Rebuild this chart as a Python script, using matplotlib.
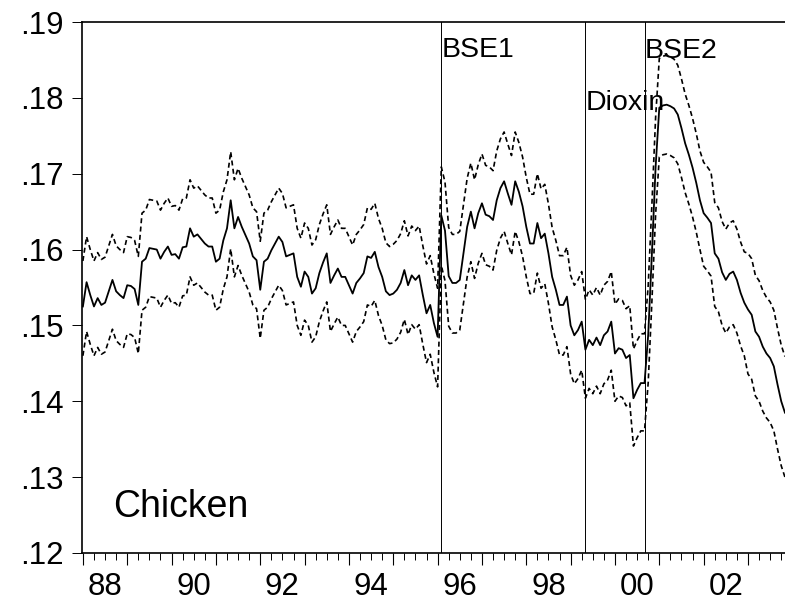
import numpy as np
import matplotlib.pyplot as plt
from matplotlib.ticker import MultipleLocator

plt.rcParams["font.family"] = ["Liberation Sans", "DejaVu Sans"]

# monthly series, starts 1988:01
START = 1988
mid = [
    .1525, .1557, .1540, .1525, .1536, .1527, .1530, .1545, .1560, .1545, .1540, .1536,
    .1553, .1552, .1548, .1527, .1584, .1588, .1602, .1601, .1600, .1588, .1597, .1604,
    .1593, .1594, .1588, .1603, .1604, .1628, .1617, .1620, .1614, .1608, .1604, .1604,
    .1584, .1588, .1612, .1628, .1665, .1628, .1643, .1630, .1619, .1608, .1591, .1586,
    .1547, .1584, .1588, .1599, .1608, .1617, .1610, .1591, .1593, .1595, .1564, .1551,
    .1571, .1564, .1542, .1549, .1569, .1583, .1595, .1556, .1566, .1575, .1564, .1564,
    .1553, .1542, .1556, .1562, .1569, .1591, .1589, .1597, .1577, .1564, .1545, .1540,
    .1542, .1547, .1556, .1573, .1553, .1566, .1560, .1566, .1540, .1516, .1527, .1503,
    .1485, .1645, .1625, .1565, .1556, .1556, .1560, .1595, .1630, .1650, .1628, .1648,
    .1661, .1646, .1644, .1639, .1665, .1681, .1690, .1674, .1659, .1690, .1676, .1657,
    .1630, .1608, .1608, .1635, .1615, .1621, .1595, .1564, .1547, .1527, .1527, .1538,
    .1500, .1487, .1494, .1505, .1468, .1481, .1474, .1484, .1474, .1487, .1492, .1505,
    .1463, .1470, .1468, .1457, .1461, .1404, .1415, .1424, .1424, .1488, .1595, .1709,
    .1787, .1790, .1791, .1789, .1786, .1778, .1760, .1740, .1725, .1708, .1688, .1665,
    .1648, .1642, .1635, .1595, .1588, .1570, .1560, .1568, .1571, .1560, .1543, .1530,
    .1521, .1514, .1492, .1485, .1472, .1463, .1457, .1446, .1422, .1400, .1385,
]

# distance of the dashed bands from the middle line, one value per year 1988..2003
band_up = [.0060, .0064, .0064, .0064, .0064, .0064, .0064, .0065,
           .0064, .0065, .0065, .0066, .0065, .0065, .0067, .0074]
band_lo = [.0065, .0064, .0064, .0064, .0064, .0064, .0064, .0065,
           .0066, .0066, .0066, .0064, .0063, .0065, .0070, .0085]

event_names = ["BSE1", "Dioxin", "BSE2"]
event_dates = [1996 + 1 / 12, 1999 + 4 / 12, 2000 + 8 / 12]
event_label_y = [.1854, .1784, .1853]

ytick_vals = [.12, .13, .14, .15, .16, .17, .18, .19]
ytick_labels = [".12", ".13", ".14", ".15", ".16", ".17", ".18", ".19"]
xlabel_years = [1988, 1990, 1992, 1994, 1996, 1998, 2000, 2002]
xlabel_text = ["88", "90", "92", "94", "96", "98", "00", "02"]

mid = np.array(mid)
idx = np.arange(len(mid))
t = START + idx / 12
yr = idx // 12
upper = mid + np.array(band_up)[yr]
lower = mid - np.array(band_lo)[yr]

fig = plt.figure(figsize=(7.85, 6.04), dpi=100)
ax = fig.add_axes([82 / 785, 51 / 604, 705 / 785, 531 / 604])

dash = (0, (3.0, 2.0))
ax.plot(t, upper, color="black", lw=1.2, linestyle=dash)
ax.plot(t, lower, color="black", lw=1.2, linestyle=dash)
ax.plot(t, mid, color="black", lw=1.3)

for name, d, y in zip(event_names, event_dates, event_label_y):
    ax.axvline(d, color="black", lw=0.7)
    ax.text(d, y, name, fontsize=20.5, ha="left", va="baseline")

ax.text(1988.677, .12475, "Chicken", fontsize=27, ha="left", va="baseline")

ax.set_xlim(1987.98, 2003.88)
ax.set_ylim(.12, .19)

for s in ["left", "top", "bottom"]:
    ax.spines[s].set_linewidth(1.2)
ax.spines["right"].set_visible(False)

ax.set_yticks(ytick_vals, ytick_labels)
ax.tick_params(axis="y", direction="out", length=7.2, width=0.7, pad=6, labelsize=22.5)

ax.set_xticks(np.arange(1988, 2004), labels=[])
ax.xaxis.set_minor_locator(MultipleLocator(0.25))
ax.tick_params(axis="x", which="major", direction="out", length=8.6, width=0.8)
ax.tick_params(axis="x", which="minor", direction="out", length=5, width=0.7)

sec = ax.secondary_xaxis("bottom")
sec.set_xticks([y + 0.5 for y in xlabel_years], xlabel_text)
sec.tick_params(length=0, pad=13.5, labelsize=22.5)
sec.spines["bottom"].set_visible(False)

fig.savefig("out.png", dpi=100)
